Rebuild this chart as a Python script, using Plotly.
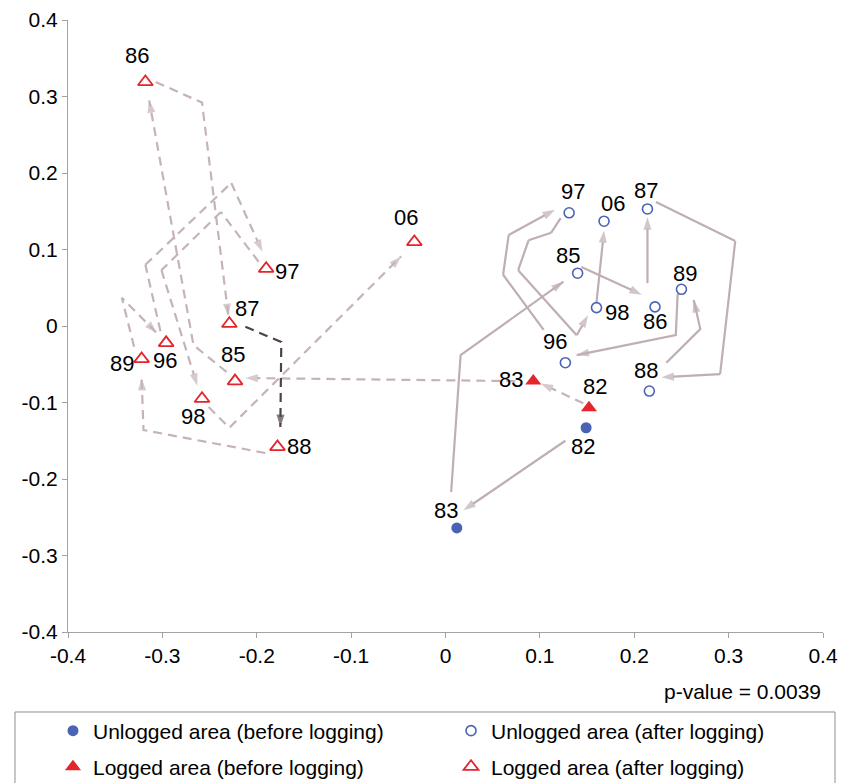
import plotly.graph_objects as go

FONT = "Liberation Sans, Arial, sans-serif"

# ---- ordination scores (axis 1, axis 2) by site group and survey year ----
unl_before_years = ["82", "83"]
unl_before_x = [0.149, 0.012]
unl_before_y = [-0.133, -0.264]

unl_after_years = ["85", "86", "87", "88", "89", "96", "97", "98", "06"]
unl_after_x = [0.140, 0.222, 0.214, 0.216, 0.250, 0.127, 0.131, 0.160, 0.168]
unl_after_y = [0.069, 0.025, 0.153, -0.085, 0.048, -0.048, 0.148, 0.024, 0.137]

log_before_years = ["82", "83"]
log_before_x = [0.152, 0.093]
log_before_y = [-0.107, -0.072]

log_after_years = ["85", "86", "87", "88", "89", "96", "97", "98", "06"]
log_after_x = [-0.223, -0.318, -0.229, -0.178, -0.322, -0.296, -0.190, -0.258, -0.033]
log_after_y = [-0.072, 0.319, 0.003, -0.158, -0.043, -0.022, 0.075, -0.095, 0.110]

# ---- year-to-year trajectories (vertices of each connector, arrow at the end) ----
unl_paths = [
    [(0.127, -0.150), (0.019, -0.241)],                                   # 82 -> 83
    [(0.006, -0.217), (0.016, -0.038), (0.125, 0.058)],                   # 83 -> 85
    [(0.144, 0.077), (0.208, 0.041)],                                     # 85 -> 86
    [(0.214, 0.056), (0.214, 0.142)],                                     # 86 -> 87
    [(0.223, 0.162), (0.307, 0.111), (0.291, -0.063), (0.229, -0.067)],   # 87 -> 88
    [(0.234, -0.048), (0.270, -0.004), (0.263, 0.034)],                   # 88 -> 89
    [(0.246, 0.042), (0.244, -0.012), (0.139, -0.038)],                   # 89 -> 96
    [(0.104, -0.005), (0.061, 0.067), (0.067, 0.119), (0.116, 0.152)],    # 96 -> 97
    [(0.122, 0.141), (0.112, 0.122), (0.088, 0.112), (0.077, 0.073),
     (0.139, -0.012), (0.151, 0.014)],                                    # 97 -> 98
    [(0.160, 0.031), (0.168, 0.125)],                                     # 98 -> 06
]

log_paths = [
    [(0.146, -0.101), (0.101, -0.075)],                                   # 82 -> 83
    [(0.074, -0.072), (-0.212, -0.068)],                                  # 83 -> 85
    [(-0.232, -0.060), (-0.267, -0.025), (-0.314, 0.295)],                # 85 -> 86
    [(-0.307, 0.319), (-0.258, 0.292), (-0.230, 0.013)],                  # 86 -> 87
    [(-0.191, -0.166), (-0.320, -0.136), (-0.322, -0.068)],               # 88 -> 89
    [(-0.330, -0.027), (-0.343, 0.037), (-0.306, -0.009)],                # 89 -> 96
    [(-0.302, -0.007), (-0.318, 0.080), (-0.227, 0.187), (-0.194, 0.097)],  # 96 -> 97
    [(-0.198, 0.084), (-0.238, 0.149), (-0.301, 0.073), (-0.263, -0.078)],  # 97 -> 98
    [(-0.251, -0.106), (-0.229, -0.133), (-0.047, 0.091)],                # 98 -> 06
]
# logging event transition, drawn darker
log_path_highlight = [(-0.212, -0.001), (-0.174, -0.021), (-0.175, -0.132)]  # 87 -> 88

# ---- axis ticks ----
tick_vals = [-0.4, -0.3, -0.2, -0.1, 0.0, 0.1, 0.2, 0.3, 0.4]
tick_text = ["-0.4", "-0.3", "-0.2", "-0.1", "0", "0.1", "0.2", "0.3", "0.4"]

# label offsets (px: right, up) for the year labels
unl_before_off = [(-3, -19), (-11, 17)]
unl_after_off = [(-10, 18), (0, -15), (-1, 18), (-3, 21), (4, 16), (-10, 21), (4, 21), (20, -5), (9, 18)]
log_before_off = [(6, 21), (-22, 2)]
log_after_off = [(-2, 27), (-8, 26), (18, 15), (21, 0), (-20, -5), (-1, -18), (21, -3), (-9, -18), (-8, 24)]

BLUE = "#4a63b3"
RED = "#e3262c"
SOLID_C = "#bfaeb3"
DASH_C = "#c5b3b8"
DARK_C = "#504347"

fig = go.Figure()


def add_path(pts, color, dash):
    xs = [p[0] for p in pts]
    ys = [p[1] for p in pts]
    sizes = [0] * (len(pts) - 1) + [13]
    fig.add_trace(go.Scatter(
        x=xs, y=ys, mode="lines+markers",
        line=dict(color=color, width=2.2, dash=dash),
        marker=dict(symbol="arrow", angleref="previous", size=sizes,
                    color=color, line=dict(width=0)),
        showlegend=False, hoverinfo="skip", cliponaxis=False,
    ))


for p in unl_paths:
    add_path(p, SOLID_C, "solid")
for p in log_paths:
    add_path(p, DASH_C, "9px,6px")
add_path(log_path_highlight, DARK_C, "9px,6px")

fig.add_trace(go.Scatter(
    x=unl_before_x, y=unl_before_y, mode="markers", name="Unlogged area (before logging)",
    marker=dict(symbol="circle", size=11, color=BLUE, line=dict(width=0)),
    legend="legend", cliponaxis=False,
))
fig.add_trace(go.Scatter(
    x=unl_after_x, y=unl_after_y, mode="markers", name="Unlogged area (after logging)",
    marker=dict(symbol="circle-open", size=10, color=BLUE, line=dict(width=1.6)),
    legend="legend2", cliponaxis=False,
))
fig.add_trace(go.Scatter(
    x=log_before_x, y=log_before_y, mode="markers", name="Logged area (before logging)",
    marker=dict(symbol="triangle-up", size=14, color=RED, line=dict(width=0)),
    legend="legend3", cliponaxis=False,
))
fig.add_trace(go.Scatter(
    x=log_after_x, y=log_after_y, mode="markers", name="Logged area (after logging)",
    marker=dict(symbol="triangle-up-open", size=13, color=RED, line=dict(width=1.8)),
    legend="legend4", cliponaxis=False,
))

annotations = []
for years, xs, ys, offs in [
    (unl_before_years, unl_before_x, unl_before_y, unl_before_off),
    (unl_after_years, unl_after_x, unl_after_y, unl_after_off),
    (log_before_years, log_before_x, log_before_y, log_before_off),
    (log_after_years, log_after_x, log_after_y, log_after_off),
]:
    for t, x, y, (dx, dy) in zip(years, xs, ys, offs):
        annotations.append(dict(
            x=x, y=y, xref="x", yref="y", text=t, showarrow=False,
            xshift=dx, yshift=dy, font=dict(family=FONT, size=22, color="black"),
        ))

annotations.append(dict(
    x=1.0, y=-0.098, xref="paper", yref="paper", text="p-value = 0.0039",
    showarrow=False, xanchor="right", yanchor="middle",
    font=dict(family=FONT, size=21, color="black"),
))

axis_common = dict(
    range=[-0.4, 0.4], tickvals=tick_vals, ticktext=tick_text,
    showgrid=False, zeroline=False, showline=True, linecolor="#a3a3a3", linewidth=1,
    ticks="outside", ticklen=5, tickcolor="#a3a3a3",
    tickfont=dict(family=FONT, size=21, color="black"),
)

legend_common = dict(
    orientation="h", yanchor="middle", xanchor="left",
    bgcolor="rgba(0,0,0,0)", borderwidth=0,
    font=dict(family=FONT, size=21, color="black"),
)
col1_x, col2_x = -0.0199, 0.5073
row1_y, row2_y = -0.1618, -0.2206

fig.update_layout(
    width=847, height=783,
    margin=dict(l=68, r=24, t=20, b=151, autoexpand=False),
    paper_bgcolor="white", plot_bgcolor="white",
    font=dict(family=FONT, size=20, color="black"),
    xaxis=axis_common,
    yaxis=axis_common,
    legend=dict(legend_common, x=col1_x, y=row1_y),
    legend2=dict(legend_common, x=col2_x, y=row1_y),
    legend3=dict(legend_common, x=col1_x, y=row2_y),
    legend4=dict(legend_common, x=col2_x, y=row2_y),
    annotations=annotations,
    shapes=[dict(
        type="rect", xref="paper", yref="paper",
        x0=-0.0702, x1=1.0159, y0=-0.255, y1=-0.1307,
        line=dict(color="#8f8f8f", width=1), fillcolor="rgba(0,0,0,0)",
    )],
)

fig.write_html("out.html")
